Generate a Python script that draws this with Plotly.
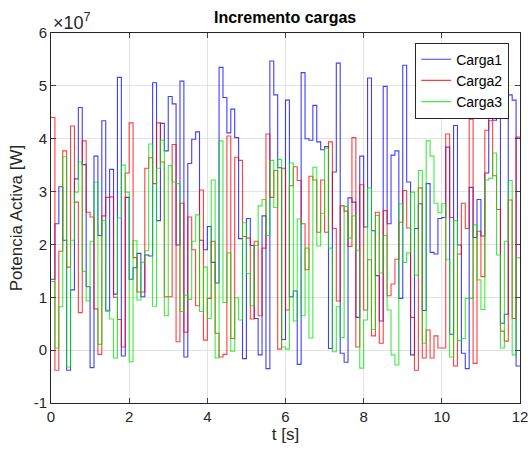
import plotly.graph_objects as go

# time step of the piecewise-constant load profiles [s]
t_step = 0.1
t_end = 12.0

# Active power of each load, in units of 1e7 W (one value per 0.1 s step)
carga1 = [1.34, 2.39, 3.09, 2.08, -0.38, 1.14, 3.24, 4.59, 3.51, 1.2, -0.33, 3.67, 2.17, 4.34, 0.74, 3.42, 1.06, 5.16, -0.11, 2.89,
          1.34, 1.56, 1.83, 1.01, 1.8, 1.78, 5.06, 2.45, 4.29, 3.77, 4.8, 4.66, 1.99, 5.09, -0.13, 3.53, 3.99, 4.13, 2.08, 1.9,
          2.34, 1.66, 1.27, 5.35, 4.78, 4.11, 4.56, 4.02, 2.11, -0.16, 2.49, 1.98, 0.6, -0.09, 2.54, -0.35, 5.47, 4.83, 3.45, 0.2,
          4.73, 1.01, 1.12, -0.27, 5.25, 4.0, 3.97, 4.63, 3.94, 3.79, 3.85, 0.03, 3.37, 5.43, -0.06, -0.23, 2.88, 2.8, 0.62, 3.67,
          2.33, 5.15, 2.26, 1.41, 0.55, 4.99, 2.39, 3.69, 3.77, 0.98, 5.39, 3.18, -0.09, 2.3, 2.77, 0.75, 3.15, 1.85, 1.82, 2.49,
          2.51, 3.84, 0.3, 4.25, 1.99, -0.06, -0.35, 3.08, 2.13, 2.85, 2.16, 3.35, 4.59, 4.35, 4.54, 0.51, 0.68, 4.83, 4.73, -0.3]

carga2 = [4.40, -0.38, 1.87, 3.77, 1.57, 4.24, 2.80, 0.71, 3.96, 2.61, 2.52, 0.78, -0.08, 2.54, 2.89, 2.90, 1.0, 0.58, 0.06, 3.35,
          4.3, 1.75, 1.1, 1.1, 3.44, 3.64, 3.15, 4.3, 3.56, 1.01, 1.01, 3.89, 0.16, 2.78, 0.34, 2.52, 1.9, 0.84, 3.03, 0.19,
          0.98, 2.06, 0.32, -0.13, -0.08, 4.05, 0.22, 3.65, 3.59, 2.15, 2.12, 0.59, 2.06, 0.65, 1.93, 4.09, 2.89, 3.4, 0.02, 3.44,
          0.76, 3.11, 3.47, 3.21, 2.39, 1.52, 3.29, 3.22, 2.23, 3.22, 2.23, 3.94, 2.3, 0.93, 2.73, 2.63, 1.96, 4.02, 0.06, 3.13,
          0.76, 1.71, 0.27, 2.61, 0.13, 2.64, 1.03, 1.25, 1.72, 2.42, 3.02, 2.31, 0.62, -0.38, 3.07, -0.15, 0.38, -0.15, 0.27, 0.04,
          0.04, 4.09, 2.51, -0.3, 1.82, 2.78, 2.3, 4.37, -0.25, 2.25, 1.39, 4.16, 4.34, 3.3, 2.66, 0.36, 0.17, 2.84, 0.6, 4.03]

carga3 = [1.30, 0.04, 0.82, 3.66, -0.32, 2.08, 2.99, 3.56, 1.49, 0.93, 2.06, 3.18, 0.11, 2.45, 0.76, 0.59, -0.15, 2.5, 3.5, 2.99,
          -0.22, 2.07, 0.95, 1.66, 1.88, 3.9, 0.83, 3.44, 3.97, 0.65, 3.49, 3.18, 3.15, 0.73, 1.04, 0.96, 2.06, 2.56, 0.73, 1.57,
          0.6, 3.22, -0.15, 3.96, 0.9, 1.84, -0.02, 0.99, 0.57, 2.41, 1.45, 0.84, 1.98, 2.73, 2.85, 2.17, 3.59, 2.7, 3.61, 0.06,
          0.02, 3.54, 0.55, 2.48, 0.65, 1.93, 0.23, 3.46, 1.97, 2.59, 3.82, 1.93, -0.03, 0.82, 0.24, 2.72, 2.12, 2.54, 1.89, -0.34,
          0.57, 3.07, 0.39, 2.55, 1.46, 2.17, 0.76, -0.09, -0.28, 2.77, 1.66, 1.84, 2.99, 1.42, 3.4, 0.13, 3.96, 3.67, 2.78, 2.6,
          2.77, 1.71, -0.13, 2.45, 0.18, 0.22, 0.98, 0.98, 2.37, 1.33, 0.77, 3.22, 3.25, 3.73, 1.8, 0.04, 2.06, 3.21, -0.09, 1.75]

series_names = ["Carga1", "Carga2", "Carga3"]
series_colors = ["rgb(0,0,255)", "rgb(255,0,0)", "rgb(0,230,0)"]

x_ticks = [0, 2, 4, 6, 8, 10, 12]
y_ticks = [-1, 0, 1, 2, 3, 4, 5, 6]
y_tick_labels = ["-1", "0", "1", "2", "3", "4", "5", "6"]

n = len(carga1)
t = [round(i * t_step, 4) for i in range(n)] + [t_end]

fig = go.Figure()
for name, vals, col in zip(series_names, [carga1, carga2, carga3], series_colors):
    fig.add_trace(go.Scatter(
        x=t, y=vals + [vals[-1]], mode="lines", name=name,
        line=dict(color=col, width=1.1, shape="hv"), opacity=0.75,
    ))

axis_col = "#262626"
grid_col = "#e3e3e3"
fig.update_layout(
    width=528, height=451,
    margin=dict(l=51, r=8, t=33, b=48, autoexpand=False),
    paper_bgcolor="white", plot_bgcolor="white",
    font=dict(family="Liberation Sans, Arial, sans-serif", size=15, color=axis_col),
    title=dict(text="<b>Incremento cargas</b>", x=0.54, xanchor="center",
               y=0.962, yanchor="middle", font=dict(size=16, color="black")),
    showlegend=True,
    legend=dict(x=0.977, xanchor="right", y=0.974, yanchor="top",
                bgcolor="white", bordercolor=axis_col, borderwidth=1,
                font=dict(size=14, color="black"), tracegroupgap=0,
                itemwidth=30),
)
fig.update_xaxes(range=[0, 12], tickvals=x_ticks, ticks="inside", ticklen=5,
                 showline=True, linecolor=axis_col, linewidth=1, mirror="ticks",
                 showgrid=True, gridcolor=grid_col, zeroline=False, automargin=False,
                 ticklabeloverflow="allow",
                 tickfont=dict(size=15, color=axis_col),
                 title=dict(text="t [s]", font=dict(size=17, color=axis_col), standoff=4))
fig.update_yaxes(range=[-1, 6], tickvals=y_ticks, ticktext=y_tick_labels,
                 ticks="inside", ticklen=5,
                 showline=True, linecolor=axis_col, linewidth=1, mirror="ticks",
                 showgrid=True, gridcolor=grid_col, zeroline=False, automargin=False,
                 ticklabeloverflow="allow",
                 tickfont=dict(size=15, color=axis_col),
                 title=dict(text="Potencia Activa [W]", font=dict(size=17, color=axis_col), standoff=6))
fig.add_annotation(text="×10<sup>7</sup>", xref="paper", yref="paper", x=0.0, y=1.0,
                   xanchor="left", yanchor="bottom", showarrow=False, yshift=-2,
                   font=dict(size=18, color=axis_col))

fig.write_html("out.html")
